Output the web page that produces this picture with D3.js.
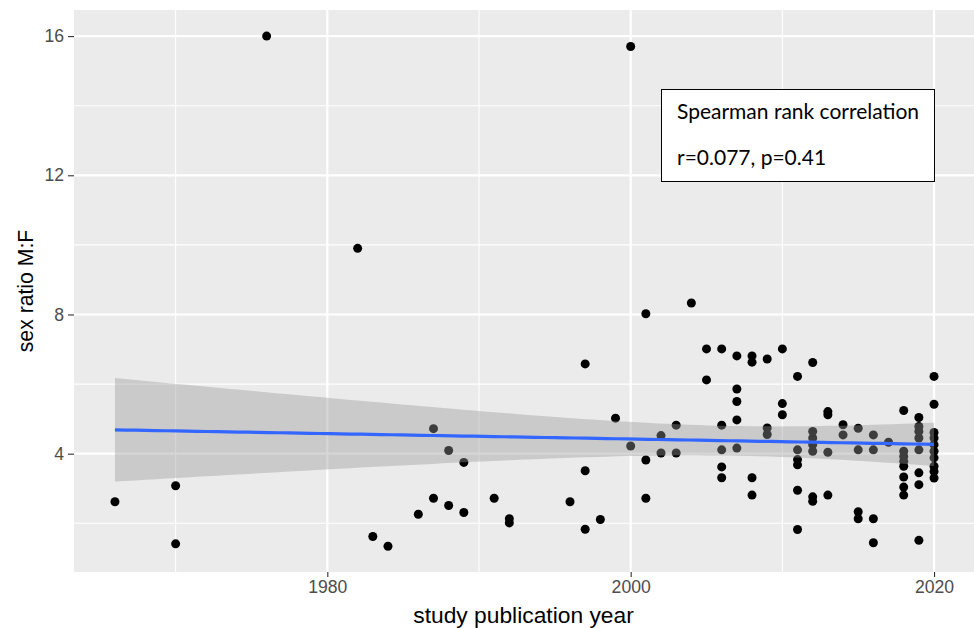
<!DOCTYPE html>
<html>
<head>
<meta charset="utf-8">
<script src="https://cdn.jsdelivr.net/npm/d3@7"></script>
<style>
  body { margin: 0; background: #fff; }
  svg { display: block; }
</style>
</head>
<body>
<svg width="974" height="628"></svg>
<script>
// one entry per study: publication year and reported M:F ratio
var pubYear = [
  1966, 1970, 1970, 1976, 1982, 1983, 1984, 1986, 1987, 1987,
  1988, 1988, 1989, 1989, 1991, 1992, 1992, 1996, 1997, 1997,
  1997, 1998, 1999, 2000, 2000, 2001, 2001, 2001, 2002, 2002,
  2003, 2003, 2004, 2005, 2005, 2006, 2006, 2006, 2006, 2006,
  2007, 2007, 2007, 2007, 2007, 2008, 2008, 2008, 2008, 2009,
  2009, 2009, 2010, 2010, 2010, 2011, 2011, 2011, 2011, 2011,
  2011, 2012, 2012, 2012, 2012, 2012, 2012, 2012, 2013, 2013,
  2013, 2013, 2014, 2014, 2015, 2015, 2015, 2015, 2016, 2016,
  2016, 2016, 2017, 2018, 2018, 2018, 2018, 2018, 2018, 2018,
  2018, 2019, 2019, 2019, 2019, 2019, 2019, 2019, 2019, 2020,
  2020, 2020, 2020, 2020, 2020, 2020, 2020, 2020, 2020
];
var sexRatio = [
  2.62, 3.08, 1.41, 16.0, 9.9, 1.62, 1.34, 2.26, 4.72, 2.72,
  4.09, 2.51, 3.75, 2.31, 2.72, 2.13, 2.01, 2.62, 6.58, 3.51,
  1.83, 2.11, 5.02, 15.7, 4.22, 8.02, 3.82, 2.72, 4.52, 4.02,
  4.82, 4.02, 8.33, 7.01, 6.12, 7.01, 4.82, 4.11, 3.62, 3.31,
  6.81, 5.86, 5.50, 4.97, 4.16, 6.81, 6.63, 3.31, 2.81, 6.72,
  4.74, 4.55, 7.01, 5.44, 5.12, 6.22, 4.11, 3.83, 3.68, 2.95,
  1.82, 6.62, 4.64, 4.45, 4.26, 4.07, 2.76, 2.63, 5.21, 5.12,
  4.04, 2.81, 4.83, 4.54, 4.73, 4.11, 2.33, 2.13, 4.54, 4.11,
  2.13, 1.44, 4.33, 5.24, 4.07, 3.92, 3.78, 3.64, 3.33, 3.04,
  2.81, 5.04, 4.78, 4.64, 4.45, 4.11, 3.45, 3.11, 1.51, 6.22,
  5.42, 4.61, 4.45, 4.26, 4.07, 3.88, 3.64, 3.49, 3.30
];

var xTicks = [1980, 2000, 2020],
    xMinor = [1970, 1990, 2010],
    yTicks = [4, 8, 12, 16],
    yMinor = [2, 6, 10, 14];

var statLines = ["Spearman rank correlation", "r=0.077, p=0.41"];

var svg = d3.select("svg");
var pLeft = 74, pRight = 975, pTop = 10, pBottom = 572;

var x = d3.scaleLinear().domain([1963.3, 2022.7]).range([pLeft, pRight]);
var y = d3.scaleLinear().domain([0.6, 16.75]).range([pBottom, pTop]);

// panel
svg.append("rect")
    .attr("x", pLeft).attr("y", pTop)
    .attr("width", pRight - pLeft).attr("height", pBottom - pTop)
    .attr("fill", "#ebebeb");

var grid = svg.append("g").attr("stroke", "#fff");
grid.selectAll(".ymin").data(yMinor).enter().append("line")
    .attr("x1", pLeft).attr("x2", pRight)
    .attr("y1", y).attr("y2", y)
    .attr("stroke-width", 1.1);
grid.selectAll(".xmin").data(xMinor).enter().append("line")
    .attr("y1", pTop).attr("y2", pBottom)
    .attr("x1", x).attr("x2", x)
    .attr("stroke-width", 1.1);
grid.selectAll(".ymaj").data(yTicks).enter().append("line")
    .attr("x1", pLeft).attr("x2", pRight)
    .attr("y1", y).attr("y2", y)
    .attr("stroke-width", 2.2);
grid.selectAll(".xmaj").data(xTicks).enter().append("line")
    .attr("y1", pTop).attr("y2", pBottom)
    .attr("x1", x).attr("x2", x)
    .attr("stroke-width", 2.2);

// points
var pts = pubYear.map(function(d, i) { return [d, sexRatio[i]]; });
svg.append("g").selectAll("circle")
    .data(pts)
  .enter().append("circle")
    .attr("cx", function(d) { return x(d[0]); })
    .attr("cy", function(d) { return y(d[1]); })
    .attr("r", 4.5)
    .attr("fill", "#000");

// linear fit with 95% confidence band (like geom_smooth(method = "lm"))
var n = pts.length,
    mx = d3.mean(pubYear),
    my = d3.mean(sexRatio),
    sxx = d3.sum(pubYear, function(d) { return (d - mx) * (d - mx); }),
    sxy = d3.sum(pts, function(d) { return (d[0] - mx) * (d[1] - my); }),
    slope = sxy / sxx,
    icpt = my - slope * mx,
    sse = d3.sum(pts, function(d) { var e = d[1] - (icpt + slope * d[0]); return e * e; }),
    s = Math.sqrt(sse / (n - 2)),
    z = 1.959964,
    tq = z + (z * z * z + z) / (4 * (n - 2));

var xs = d3.range(81).map(function(i) {
  return d3.min(pubYear) + i * (d3.max(pubYear) - d3.min(pubYear)) / 80;
});
var fit = xs.map(function(v) {
  var f = icpt + slope * v,
      se = s * Math.sqrt(1 / n + (v - mx) * (v - mx) / sxx);
  return { x: v, y: f, lo: f - tq * se, hi: f + tq * se };
});

svg.append("path")
    .datum(fit)
    .attr("fill", "#999999")
    .attr("fill-opacity", 0.4)
    .attr("d", d3.area()
      .x(function(d) { return x(d.x); })
      .y0(function(d) { return y(d.lo); })
      .y1(function(d) { return y(d.hi); }));

svg.append("path")
    .datum(fit)
    .attr("fill", "none")
    .attr("stroke", "#3366ff")
    .attr("stroke-width", 3.2)
    .attr("d", d3.line()
      .x(function(d) { return x(d.x); })
      .y(function(d) { return y(d.y); }));

// axes
var xAxis = svg.append("g")
    .attr("transform", "translate(0," + pBottom + ")")
    .call(d3.axisBottom(x).tickValues(xTicks).tickFormat(d3.format("d")).tickSize(5).tickPadding(4));
var yAxis = svg.append("g")
    .attr("transform", "translate(" + pLeft + ",0)")
    .call(d3.axisLeft(y).tickValues(yTicks).tickSize(6).tickPadding(4));

[xAxis, yAxis].forEach(function(a) {
  a.select(".domain").remove();
  a.selectAll("line").attr("stroke", "#333").attr("stroke-width", 1.1);
  a.selectAll("text")
      .attr("fill", "#4d4d4d")
      .style("font-family", "'Liberation Sans', Arial, sans-serif")
      .style("font-size", "17.6px");
});

svg.append("text")
    .attr("x", (pLeft + pRight) / 2 - 1)
    .attr("y", 623)
    .attr("text-anchor", "middle")
    .style("font-family", "'Liberation Sans', Arial, sans-serif")
    .style("font-size", "22.8px")
    .text("study publication year");

svg.append("text")
    .attr("transform", "translate(33," + ((pTop + pBottom) / 2) + ") rotate(-90)")
    .attr("text-anchor", "middle")
    .style("font-family", "'Liberation Sans', Arial, sans-serif")
    .style("font-size", "21.2px")
    .text("sex ratio M:F");

// stats box
var box = svg.append("g");
box.append("rect")
    .attr("x", 661.5).attr("y", 89.5)
    .attr("width", 273).attr("height", 92)
    .attr("fill", "#fff")
    .attr("stroke", "#000")
    .attr("stroke-width", 1);
box.selectAll("text")
    .data(statLines)
  .enter().append("text")
    .attr("x", 677)
    .attr("y", function(d, i) { return 119 + i * 46; })
    .style("font-family", "Lato, 'Open Sans', sans-serif")
    .style("font-size", "21px")
    .text(function(d) { return d; });
</script>
</body>
</html>
